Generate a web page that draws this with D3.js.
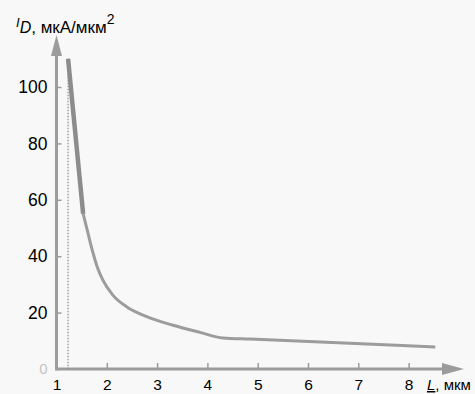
<!DOCTYPE html>
<html>
<head>
<meta charset="utf-8">
<script src="https://cdn.jsdelivr.net/npm/d3@7"></script>
<style>
body { margin: 0; background: #f8f8f8; }
svg { display: block; font-family: "Liberation Sans", Arial, sans-serif; }
</style>
</head>
<body>
<script>
// current density vs length
var thickL = [1.23, 1.53];
var thickI = [110, 55];
var curveL = [1.53, 1.61, 1.71, 1.81, 1.92, 2.12, 2.40, 2.72, 3.06, 3.30, 3.85, 4.31, 4.85, 8.53];
var curveI = [55, 49.3, 42.2, 36.2, 31.6, 26.2, 22.0, 19.1, 16.9, 15.6, 13.0, 11.0, 10.6, 7.8];
var xTicks = [1, 2, 3, 4, 5, 6, 7, 8];
var yTicks = [0, 20, 40, 60, 80, 100];
var dotL = 1.23;

var svg = d3.select("body").append("svg")
  .attr("width", 475)
  .attr("height", 394);

var x = d3.scaleLinear().domain([1, 8]).range([56.5, 408.6]);
var y = d3.scaleLinear().domain([0, 100]).range([369, 87]);

var grey = "#9c9c9c";

// x axis
var xAxis = svg.append("g")
  .attr("transform", "translate(0," + y(0) + ")")
  .call(d3.axisBottom(x).tickValues(xTicks).tickSizeInner(-6).tickSizeOuter(0).tickPadding(10).tickFormat(d3.format("d")));
xAxis.select(".domain").remove();
xAxis.selectAll("line").attr("stroke", grey).attr("stroke-width", 1.5);
xAxis.selectAll("text").attr("font-size", 15.5).attr("fill", "#000");
xAxis.selectAll(".tick").filter(function(d) { return d == 1; }).select("line").remove();

// y axis
var yAxis = svg.append("g")
  .attr("transform", "translate(" + x(1) + ",0)")
  .call(d3.axisLeft(y).tickValues(yTicks).tickSizeInner(-5).tickSizeOuter(0).tickPadding(9));
yAxis.select(".domain").remove();
yAxis.selectAll("line").attr("stroke", grey).attr("stroke-width", 1.5);
yAxis.selectAll("text").attr("font-size", 17.5).attr("fill", "#000");
yAxis.selectAll(".tick").filter(function(d) { return d == 0; }).select("line").remove();
yAxis.selectAll(".tick").filter(function(d) { return d == 0; }).select("text")
  .attr("fill", "#c4c4c4").attr("font-size", 15);

// axis lines with arrows
svg.append("line")
  .attr("x1", x(1)).attr("y1", y(0)).attr("x2", 448).attr("y2", y(0))
  .attr("stroke", grey).attr("stroke-width", 3);
svg.append("path")
  .attr("d", "M442," + (y(0) - 6) + "L464," + y(0) + "L442," + (y(0) + 6) + "Z")
  .attr("fill", grey);
svg.append("line")
  .attr("x1", x(1)).attr("y1", y(0) + 1.5).attr("x2", x(1)).attr("y2", 52)
  .attr("stroke", grey).attr("stroke-width", 3);
svg.append("path")
  .attr("d", "M" + (x(1) - 5.5) + ",56L" + x(1) + ",35L" + (x(1) + 5.5) + ",56Z")
  .attr("fill", grey);

// dotted marker line
svg.append("line")
  .attr("x1", x(dotL)).attr("x2", x(dotL))
  .attr("y1", y(thickI[0])).attr("y2", y(0))
  .attr("stroke", "#8a8a8a").attr("stroke-width", 1.2)
  .attr("stroke-dasharray", "1.5,1.5");

var line = d3.line()
  .x(function(d) { return x(d[0]); })
  .y(function(d) { return y(d[1]); });

svg.append("path")
  .datum(d3.zip(curveL, curveI))
  .attr("d", line.curve(d3.curveMonotoneX))
  .attr("fill", "none")
  .attr("stroke", grey)
  .attr("stroke-width", 3);

svg.append("path")
  .datum(d3.zip(thickL, thickI))
  .attr("d", line.curve(d3.curveLinear))
  .attr("fill", "none")
  .attr("stroke", "#8c8c8c")
  .attr("stroke-width", 4.5);

// axis titles
var yt = svg.append("text").attr("x", 16).attr("y", 33).attr("font-size", 18).attr("fill", "#000");
yt.append("tspan").attr("font-style", "italic").attr("font-size", 13).attr("dy", -6).text("I");
yt.append("tspan").attr("font-style", "italic").attr("font-size", 16).attr("dy", 6).text("D");
yt.append("tspan").attr("font-size", 17).text(", мкА/мкм");
yt.append("tspan").attr("font-size", 14).attr("dy", -9).text("2");

var xt = svg.append("text").attr("x", 427).attr("y", 390).attr("font-size", 15).attr("fill", "#000");
xt.append("tspan").attr("font-style", "italic").attr("text-decoration", "underline").text("L");
xt.append("tspan").text(", мкм");
</script>
</body>
</html>
